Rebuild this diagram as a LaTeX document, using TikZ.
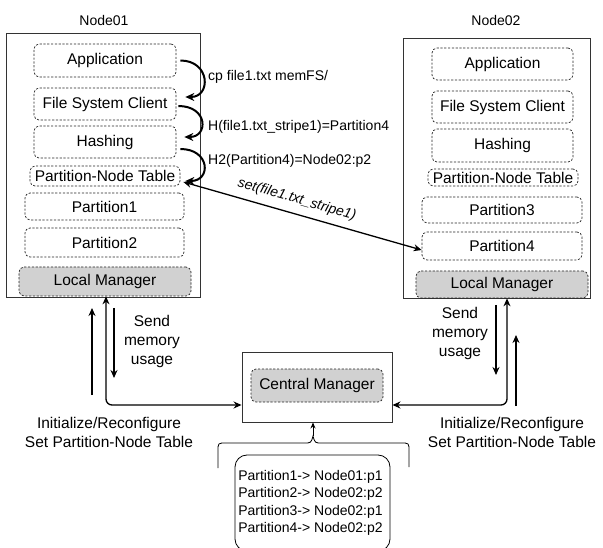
\documentclass[tikz,border=0pt]{standalone}
\usepackage{fontspec}
\setmainfont{Liberation Sans}
\usetikzlibrary{arrows.meta,calc}
\begin{document}
\begin{tikzpicture}[x=1pt,y=-1pt,
  outerbox/.style={draw=black!80, line width=0.9pt, inner sep=0pt},
  comp/.style={draw=black!85, dash pattern=on 2.2pt off 1.6pt, rounded corners=5pt, line width=0.7pt, inner sep=0pt, font=\fontsize{15.5}{18}\selectfont},
  mgr/.style={comp, fill=black!18},
  lbl/.style={font=\fontsize{14}{17}\selectfont, inner sep=0pt},
  big/.style={font=\fontsize{15.5}{19}\selectfont, align=center, inner sep=0pt},
  arr/.style={line width=1.3pt, -{Stealth[length=8pt,width=7pt]}},
  darr/.style={line width=1.3pt, {Stealth[length=8pt,width=7pt]}-{Stealth[length=8pt,width=7pt]}},
  carr/.style={line width=2pt, -{Stealth[length=9pt,width=8pt]}},
]
\useasboundingbox (0,0) rectangle (603,548);

% Node01
\node[lbl] (n1lbl) at (104,20) {Node01};
\node[outerbox, minimum width=194pt, minimum height=264pt] (node1) at (103,165) {};
\node[comp, minimum width=142pt, minimum height=33pt] (app1) at (105,60.5) {Application};
\node[comp, minimum width=142pt, minimum height=32pt] (fsc1) at (105,104) {File System Client};
\node[comp, minimum width=142pt, minimum height=32pt] (hash1) at (105,142) {Hashing};
\node[comp, minimum width=150pt, minimum height=20pt] (pnt1) at (105,176) {Partition-Node Table};
\node[comp, minimum width=159pt, minimum height=27pt] (p1) at (104.5,206.5) {Partition1};
\node[comp, minimum width=159pt, minimum height=29pt] (p2) at (104.5,242.5) {Partition2};
\node[mgr, minimum width=172pt, minimum height=29pt] (lm1) at (105,281.5) {Local Manager};

% Node02
\node[lbl] (n2lbl) at (496,20) {Node02};
\node[outerbox, minimum width=187pt, minimum height=260pt] (node2) at (496.5,168) {};
\node[comp, minimum width=141pt, minimum height=32pt] (app2) at (502.5,64) {Application};
\node[comp, minimum width=141pt, minimum height=32pt] (fsc2) at (502.5,107) {File System Client};
\node[comp, minimum width=141pt, minimum height=33pt] (hash2) at (502.5,145.5) {Hashing};
\node[comp, minimum width=150pt, minimum height=17pt] (pnt2) at (503,177.5) {Partition-Node Table};
\node[comp, minimum width=160pt, minimum height=26pt] (p3) at (502,210) {Partition3};
\node[comp, minimum width=160pt, minimum height=28pt] (p4) at (502,246) {Partition4};
\node[mgr, minimum width=172pt, minimum height=27pt] (lm2) at (502,284.5) {Local Manager};

% curved arrows inside Node01
\draw[carr] ($(app1.east)+(4,0)$) .. controls +(30,0) and +(26,0) .. ($(fsc1.east)+(9,-7)$);
\draw[carr] ($(fsc1.east)+(2,2)$) .. controls +(30,0) and +(24,0) .. ($(hash1.east)+(8,-5)$);
\draw[carr] ($(hash1.east)+(4,7)$) .. controls +(30,0) and +(26,0) .. ($(pnt1.east)+(5,5)$);

\node[lbl, anchor=west] (l1) at (208,77) {cp file1.txt memFS/};
\node[lbl, anchor=west] (l2) at (208,127) {H(file1.txt\_stripe1)=Partition4};
\node[lbl, anchor=west] (l3) at (208,161) {H2(Partition4)=Node02:p2};

% set arrow
\draw[darr] ($(pnt1.east)+(3,6)$) -- node[pos=0.46, sloped, above=7pt, font=\fontsize{14}{16}\selectfont\itshape, inner sep=0pt] (setl) {set(file1.txt\_stripe1)} ($(p4.west)+(0,4)$);

% Central manager
\node[outerbox, minimum width=150pt, minimum height=70pt] (cm) at (317,387) {};
\node[mgr, minimum width=132pt, minimum height=33pt] (cmi) at (317,385.5) {Central Manager};

% left connectors
\coordinate (lu1) at (92,395);
\coordinate (lu2) at (92,308);
\draw[arr] (lu1) -- (lu2);
\draw[darr, rounded corners=6pt] ($(lm1.south)+(1,0)$) |- ($(cm.west)+(0,18)$);
\coordinate (ld1) at (114,308);
\coordinate (ld2) at (114,378);
\draw[arr] (ld1) -- (ld2);
\node[big] (smu1) at (152,341) {Send\\memory\\usage};
\node[big] (ir1) at (109,432) {Initialize/Reconfigure\\Set Partition-Node Table};

% right connectors
\draw[darr, rounded corners=6pt] ($(lm2.south)+(5,0)$) |- ($(cm.east)+(0,18)$);
\coordinate (rd1) at (496,305);
\coordinate (rd2) at (496,375);
\draw[arr] (rd1) -- (rd2);
\coordinate (ru1) at (516,406);
\coordinate (ru2) at (516,335);
\draw[arr] (ru1) -- (ru2);
\node[big] (smu2) at (460,333) {Send\\memory\\usage};
\node[big] (ir2) at (512,432) {Initialize/Reconfigure\\Set Partition-Node Table};

% brace and table
\coordinate (bp) at (313,436);
\draw[line width=0.8pt] (218,468) -- (218,451) .. controls (218,443) .. (226,443) -- (304,443) .. controls (311,443) .. (bp) .. controls (315,443) .. (322,443) -- (401,443) .. controls (409,443) .. (409,451) -- (409,467);
\draw[line width=1pt, -{Stealth[length=6pt,width=5pt]}] (bp) -- (bp |- cm.south);
\node[draw, line width=0.8pt, rounded corners=12pt, minimum width=155pt, minimum height=96pt, inner sep=0pt] (tbl) at (312.5,503) {};
\node[align=left, font=\fontsize{14}{17.3}\selectfont, inner sep=0pt] (tbltxt) at (310.5,503) {Partition1-> Node01:p1\\Partition2-> Node02:p2\\Partition3-> Node02:p1\\Partition4-> Node02:p2};
\end{tikzpicture}
\end{document}
